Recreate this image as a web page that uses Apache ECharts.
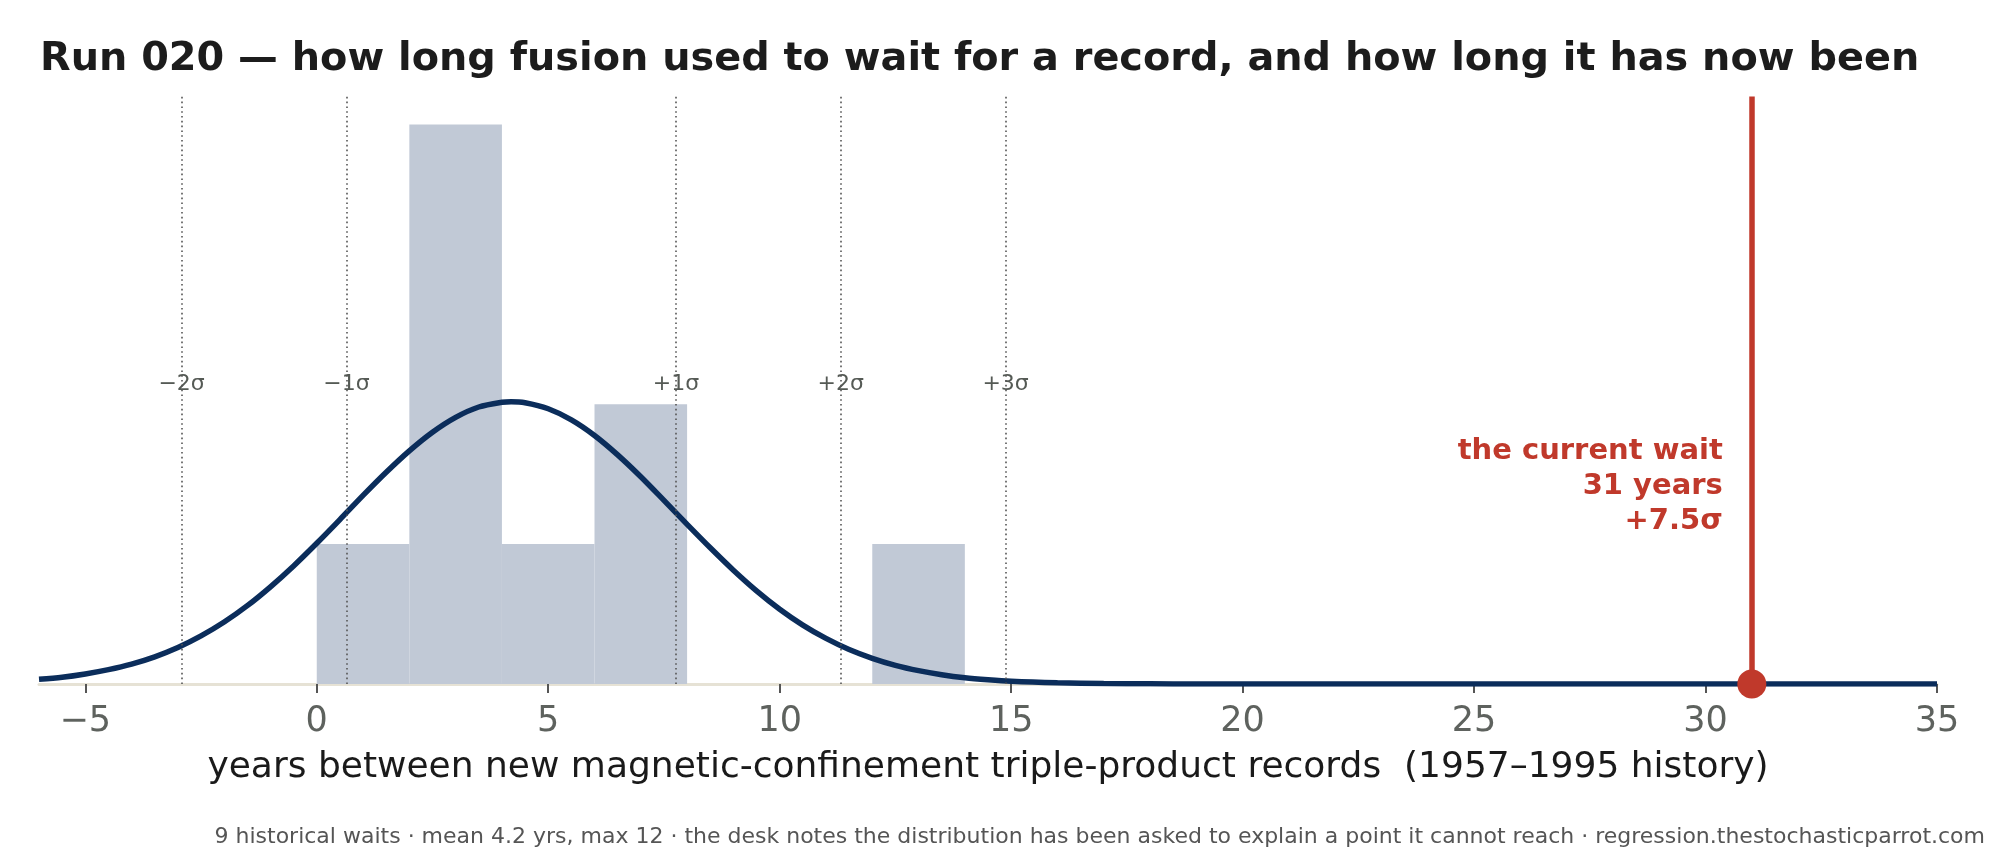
<!DOCTYPE html>
<html>
<head>
<meta charset="utf-8">
<script src="https://cdn.jsdelivr.net/npm/echarts@6/dist/echarts.min.js"></script>
<style>
html,body{margin:0;padding:0;background:#fff;}
#chart{width:2000px;height:860px;}
</style>
</head>
<body>
<div id="chart"></div>
<script>
// ---- data ----
const titleText = 'Run 020 — how long fusion used to wait for a record, and how long it has now been';
const xAxisTitle = 'years between new magnetic-confinement triple-product records  (1957–1995 history)';
const footerText = '9 historical waits · mean 4.2 yrs, max 12 · the desk notes the distribution has been asked to explain a point it cannot reach · regression.thestochasticparrot.com';

// histogram bins (years) and density heights
const binStarts = [0, 2, 4, 6, 12];
const binEnds   = [2, 4, 6, 8, 14];
const binDensity = [0.0556, 0.2222, 0.0556, 0.1111, 0.0556];

// fitted normal curve
const curveX = [-6,-5.5,-5,-4.5,-4,-3.5,-3,-2.5,-2,-1.5,-1,-0.5,0,0.5,1,1.5,2,2.5,3,3.5,4,4.2,4.5,5,5.5,6,6.5,7,7.5,8,8.5,9,9.5,10,10.5,11,11.5,12,12.5,13,13.5,14,14.5,15,16,17,18,19,20,22,25,28,31,35];
const curveY = [0.0019,0.0027,0.0040,0.0057,0.0079,0.0108,0.0145,0.0191,0.0246,0.0311,0.0386,0.0469,0.0559,0.0653,0.0749,0.0841,0.0926,0.1000,0.1059,0.1100,0.1119,0.1121,0.1117,0.1093,0.1049,0.0987,0.0910,0.0823,0.0729,0.0634,0.0541,0.0452,0.0370,0.0297,0.0234,0.0181,0.0137,0.0102,0.0074,0.0053,0.0037,0.0025,0.0017,0.0011,0.0005,0.0002,0.0001,0,0,0,0,0,0,0];

// sigma reference lines
const sigmaLabels = ['−2σ','−1σ','+1σ','+2σ','+3σ'];
const sigmaPositions = [-2.92, 0.64, 7.76, 11.32, 14.88];
const sigmaLabelY = 0.119;

// current wait
const currentWait = 31;
const currentSigma = '+7.5σ';
const currentLabelY = 0.0784;

// axis
const xMin = -6, xMax = 35, yMax = 0.2333;
const xTickValues = [-5, 0, 5, 10, 15, 20, 25, 30, 35];

const FONT = 'DejaVu Sans';
const RED = '#c0392b';
const NAVY = '#0b2d5b';

const chart = echarts.init(document.getElementById('chart'), null, {renderer: 'canvas'});

const curveData = curveX.map((x, i) => [x, curveY[i]]);
const histData = binStarts.map((s, i) => [s, binEnds[i], binDensity[i]]);

chart.setOption({
  animation: false,
  backgroundColor: '#ffffff',
  title: {
    text: titleText,
    left: 40, top: 40, padding: 0,
    textStyle: {fontFamily: FONT, fontWeight: 'bold', fontSize: 39.8, color: '#1c1c1c'}
  },
  grid: {left: 39, right: 63, top: 96.5, bottom: 176, containLabel: false},
  xAxis: {
    type: 'value', min: xMin, max: xMax,
    name: xAxisTitle, nameLocation: 'middle', nameGap: 66,
    nameTextStyle: {fontFamily: FONT, fontSize: 36, color: '#1a1a1a'},
    axisLine: {show: true, lineStyle: {color: '#e6e2d5', width: 3}},
    axisTick: {show: true, length: 9, lineStyle: {color: '#555', width: 2}, customValues: xTickValues},
    axisLabel: {
      fontFamily: FONT, fontSize: 35, color: '#5e625e', margin: 20,
      customValues: xTickValues,
      formatter: v => (v < 0 ? '−' + Math.abs(v) : String(v))
    },
    splitLine: {show: false}
  },
  yAxis: {type: 'value', min: 0, max: yMax, show: false},
  series: [
    {
      type: 'custom', name: 'hist', z: 1,
      renderItem: function (params, api) {
        const p0 = api.coord([api.value(0), 0]);
        const p1 = api.coord([api.value(1), api.value(2)]);
        return {type: 'rect', shape: {x: p0[0], y: p1[1], width: p1[0] - p0[0], height: p0[1] - p1[1]},
                style: {fill: '#c1c9d6'}};
      },
      encode: {x: [0, 1], y: 2},
      data: histData
    },
    {
      type: 'line', name: 'sigmaLines', z: 2, data: [],
      markLine: {
        silent: true, symbol: ['none', 'none'],
        lineStyle: {color: '#555', width: 1.6, type: [1.6, 3.2]},
        label: {show: false},
        data: sigmaPositions.map(p => ({xAxis: p}))
      }
    },
    {
      type: 'scatter', name: 'sigmaLabels', z: 3, symbolSize: 0,
      itemStyle: {opacity: 1},
      data: sigmaPositions.map((p, i) => ({value: [p, sigmaLabelY], name: sigmaLabels[i]})),
      label: {show: true, position: 'inside', formatter: p => p.name,
              fontFamily: FONT, fontSize: 22, color: '#555a55'}
    },
    {
      type: 'line', name: 'curve', z: 4, data: curveData,
      showSymbol: false, smooth: 0.3,
      lineStyle: {color: NAVY, width: 5.5}
    },
    {
      type: 'line', name: 'current', z: 5, data: [],
      markLine: {
        silent: true, symbol: ['none', 'none'],
        lineStyle: {color: RED, width: 5.5, type: 'solid'},
        label: {show: false},
        data: [{xAxis: currentWait}]
      }
    },
    {
      type: 'scatter', name: 'currentDot', z: 6, symbolSize: 29,
      itemStyle: {color: RED, opacity: 1},
      data: [[currentWait, 0]]
    },
    {
      type: 'scatter', name: 'currentLabel', z: 6, symbolSize: 0,
      itemStyle: {opacity: 1},
      data: [[currentWait, currentLabelY]],
      label: {
        show: true, position: 'left', distance: 29, align: 'right',
        formatter: 'the current wait\n' + currentWait + ' years\n' + currentSigma,
        fontFamily: FONT, fontWeight: 'bold', fontSize: 29, lineHeight: 35, color: RED
      }
    }
  ],
  graphic: [
    {
      type: 'text', right: 15, top: 826,
      style: {text: footerText, fontFamily: FONT, fontSize: 22, fill: '#555', textAlign: 'right'}
    }
  ]
});
</script>
</body>
</html>
